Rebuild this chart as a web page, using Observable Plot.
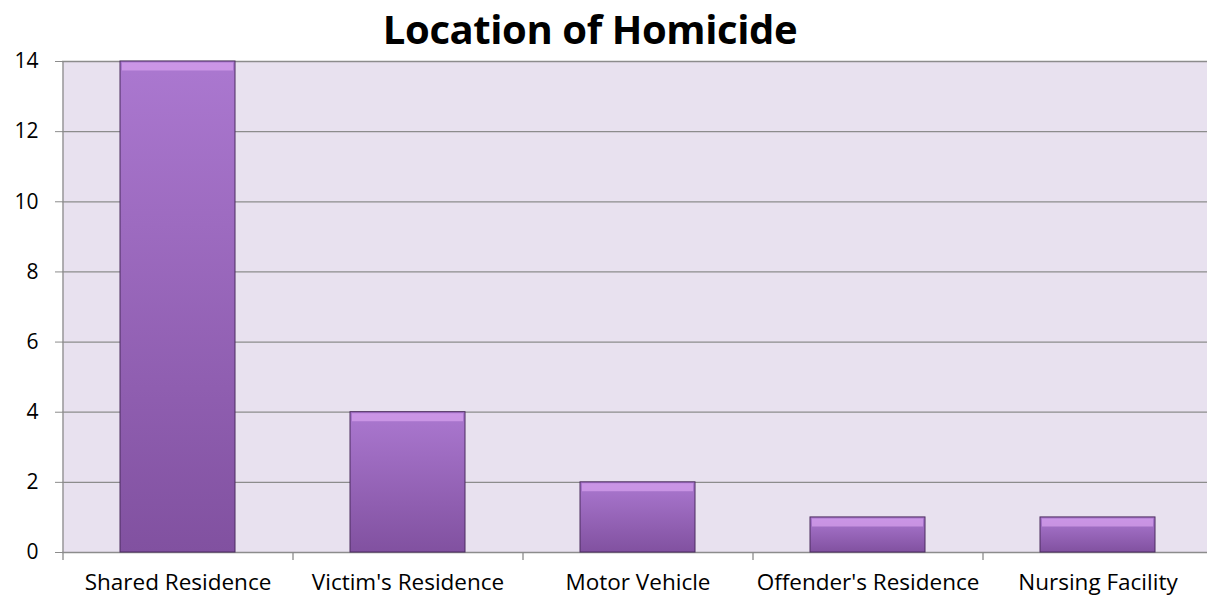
<!DOCTYPE html>
<html>
<head>
<meta charset="utf-8">
<script src="https://cdn.jsdelivr.net/npm/d3@7"></script>
<script src="https://cdn.jsdelivr.net/npm/@observablehq/plot@0.6"></script>
<style>
  html, body { margin: 0; padding: 0; background: #fff; width: 1207px; height: 602px; overflow: hidden; }
  #wrap { position: relative; width: 1207px; height: 602px; }
  #title { position: absolute; left: 590px; top: 3px; transform: translateX(-50%); font-family: "Open Sans", sans-serif; font-weight: 700; font-size: 40px; white-space: nowrap; color: #000; line-height: 52px; letter-spacing: -0.4px; }
  #chart { position: absolute; left: 0; top: 50px; }
</style>
</head>
<body>
<div id="wrap">
  <div id="title">Location of Homicide</div>
  <div id="chart"></div>
</div>
<script>
const categories = ["Shared Residence", "Victim's Residence", "Motor Vehicle", "Offender's Residence", "Nursing Facility"];
const counts = [14, 4, 2, 1, 1];
const yTicks = [0, 2, 4, 6, 8, 10, 12, 14];

const data = categories.map((c, i) => ({category: c, count: counts[i]}));

const chart = Plot.plot({
  width: 1207,
  height: 552,
  marginLeft: 62,
  marginRight: -5,
  marginTop: 11,
  marginBottom: 50,
  style: {fontFamily: "'Open Sans', sans-serif", fontSize: "18px", color: "#000", background: "transparent", overflow: "visible"},
  x: {domain: categories, paddingInner: 0.5, paddingOuter: 0.25, label: null},
  y: {domain: [0, 14], label: null},
  marks: [
    Plot.frame({fill: "#e8e1ef", stroke: null}),
    Plot.gridY(yTicks, {stroke: "#8c8c8c", strokeOpacity: 1, strokeWidth: 1.3}),
    Plot.ruleX([categories[0]], {dx: -115, y1: 0, y2: 14, stroke: "#8c8c8c", strokeWidth: 1.3}),
    Plot.ruleX(categories, {dx: -115, y1: 0, y2: 0, insetBottom: -8, stroke: "#8c8c8c", strokeWidth: 1.3}),
    Plot.axisY({ticks: yTicks, tickSize: 7, tickPadding: 17, stroke: "#8c8c8c", fill: "#000", fontSize: 21}),
    Plot.axisX({tickSize: 0, tickPadding: 22, fill: "#000", fontSize: 22.5}),
    Plot.barY(data, {x: "category", y: "count", fill: "url(#barGrad)", stroke: "#4b2c5e", strokeWidth: 1}),
    Plot.tickY(data, {x: "category", y: "count", dy: 5, stroke: "#d9a3f0", strokeOpacity: 0.7, strokeWidth: 8, insetLeft: 2, insetRight: 2})
  ]
});

const svg = d3.select(chart.tagName === "svg" ? chart : chart.querySelector("svg"));
const defs = svg.insert("defs", ":first-child");
const g1 = defs.append("linearGradient").attr("id", "barGrad").attr("x1", 0).attr("y1", 0).attr("x2", 0).attr("y2", 1);
g1.append("stop").attr("offset", "0%").attr("stop-color", "#ab78d0");
g1.append("stop").attr("offset", "100%").attr("stop-color", "#8151a0");

document.getElementById("chart").appendChild(chart);
</script>
</body>
</html>
